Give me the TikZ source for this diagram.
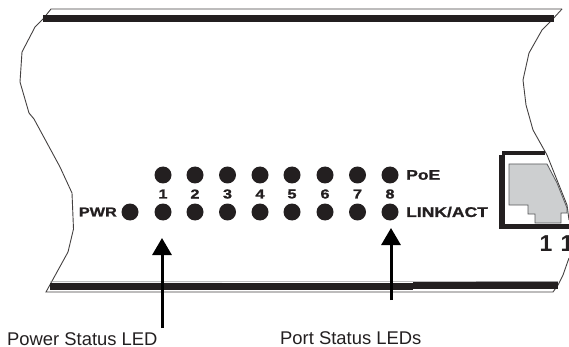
\documentclass[tikz,border=0pt]{standalone}
\usepackage{fontspec}
\setmainfont{Liberation Sans}
\newfontfamily\ledfont[FakeStretch=1.25,FakeBold=1.2]{Liberation Sans Bold}
\newfontfamily\portfont{Liberation Sans Bold}
\usetikzlibrary{arrows.meta}
\definecolor{ledblack}{HTML}{231F20}
\definecolor{jackgray}{HTML}{CDCFD0}
\definecolor{edgegray}{HTML}{58595B}
\begin{document}
\begin{tikzpicture}[x=1pt,y=-1pt,led node/.style={circle,fill=ledblack,minimum size=17pt,inner sep=0pt},
num node/.style={font=\ledfont\fontsize{13}{13}\selectfont,text=ledblack,inner sep=0pt},
side node/.style={font=\ledfont\fontsize{14}{14}\selectfont,text=ledblack,inner sep=0pt},
port node/.style={font=\portfont\fontsize{23}{23}\selectfont,text=ledblack,inner sep=0pt},
call node/.style={font=\fontsize{18.4}{20}\selectfont,text=ledblack,inner sep=0pt},
case line/.style={draw=ledblack!85,line width=.9pt},
big arrow/.style={draw=black,line width=3pt,-{Triangle[length=17pt,width=19pt]}}]
\useasboundingbox (0,0) rectangle (569,347);
%case outline
\draw[case line] (562,9) -- (51,9) -- (43,19) -- (35,27) -- (22,52) -- (20,82) -- (29,113) -- (34,119) -- (60,167) -- (72,193) -- (73.5,229) -- (68,252) -- (46,292) -- (553,292) -- (558,285) -- (563,275) -- (569,258);
\draw[case line] (562,9) -- (551,21) -- (542,30) -- (529,53) -- (523,80) -- (526,105) -- (533,130) -- (547,155) -- (557,180) -- (567,205) -- (569,220);
\fill[ledblack] (43,15) rectangle (554,21.7);
\fill[ledblack] (50,282.6) rectangle (413,290);
\fill[ledblack] (413,282) rectangle (558,288.5);
\draw[edgegray!60,line width=.6pt] (50,281.8) -- (558,281.5);
%port
\fill[ledblack] (502,150.7) rectangle (545,155);
\fill[ledblack] (499,155) rectangle (505,229.3);
\fill[ledblack] (499,224) rectangle (569,229.3);
\draw[fill=jackgray,draw=edgegray,line width=.8pt] (509,164) -- (547,164) -- (557,183) -- (567,208) -- (567,213) -- (561,213) -- (561,223) -- (535,223) -- (535,214) -- (528,214) -- (528,205) -- (509,205) -- cycle;
\begin{scope}[every node/.style={led node}]
\node (p1) at (163,175) {};%1
\node (p2) at (195,175) {};%2
\node (p3) at (227.5,175) {};%3
\node (p4) at (260,175) {};%4
\node (p5) at (292,175) {};%5
\node (p6) at (325,175) {};%6
\node (p7) at (357.5,175) {};%7
\node (p8) at (390,175) {};%8
\node (l1) at (163,212) {};%1
\node (l2) at (195,212) {};%2
\node (l3) at (227.5,212) {};%3
\node (l4) at (260,212) {};%4
\node (l5) at (292,212) {};%5
\node (l6) at (325,212) {};%6
\node (l7) at (357.5,212) {};%7
\node (l8) at (390,212) {};%8
\node (pwr) at (130,212) {};
\end{scope}
\begin{scope}[every node/.style={num node}]
\node (n1) at (163,194) {1};
\node (n2) at (195,194) {2};
\node (n3) at (227.5,194) {3};
\node (n4) at (260,194) {4};
\node (n5) at (292,194) {5};
\node (n6) at (325,194) {6};
\node (n7) at (357.5,194) {7};
\node (n8) at (390,194) {8};
\end{scope}
\node[side node,anchor=east,font=\ledfont\fontsize{13}{13}\selectfont] (tpwr) at (117,212) {PWR};
\node[side node,anchor=west] (tpoe) at (406,175) {PoE};
\node[side node,anchor=west] (tlink) at (406,212) {LINK/ACT};
\node[port node] (t1) at (546,243.5) {1};
\node[port node] (t2) at (567,243.5) {1};
\node[call node,anchor=west] (tpower) at (7,339) {Power Status LED};
\node[call node,anchor=west] (tstatus) at (280,338) {Port Status LEDs};
%arrows
\coordinate (a1) at (162,328);
\coordinate (b1) at (162,238);
\coordinate (a2) at (391,300);
\coordinate (b2) at (391,228);
\draw[big arrow] (a1) -- (b1);
\draw[big arrow] (a2) -- (b2);
\end{tikzpicture}
\end{document}
